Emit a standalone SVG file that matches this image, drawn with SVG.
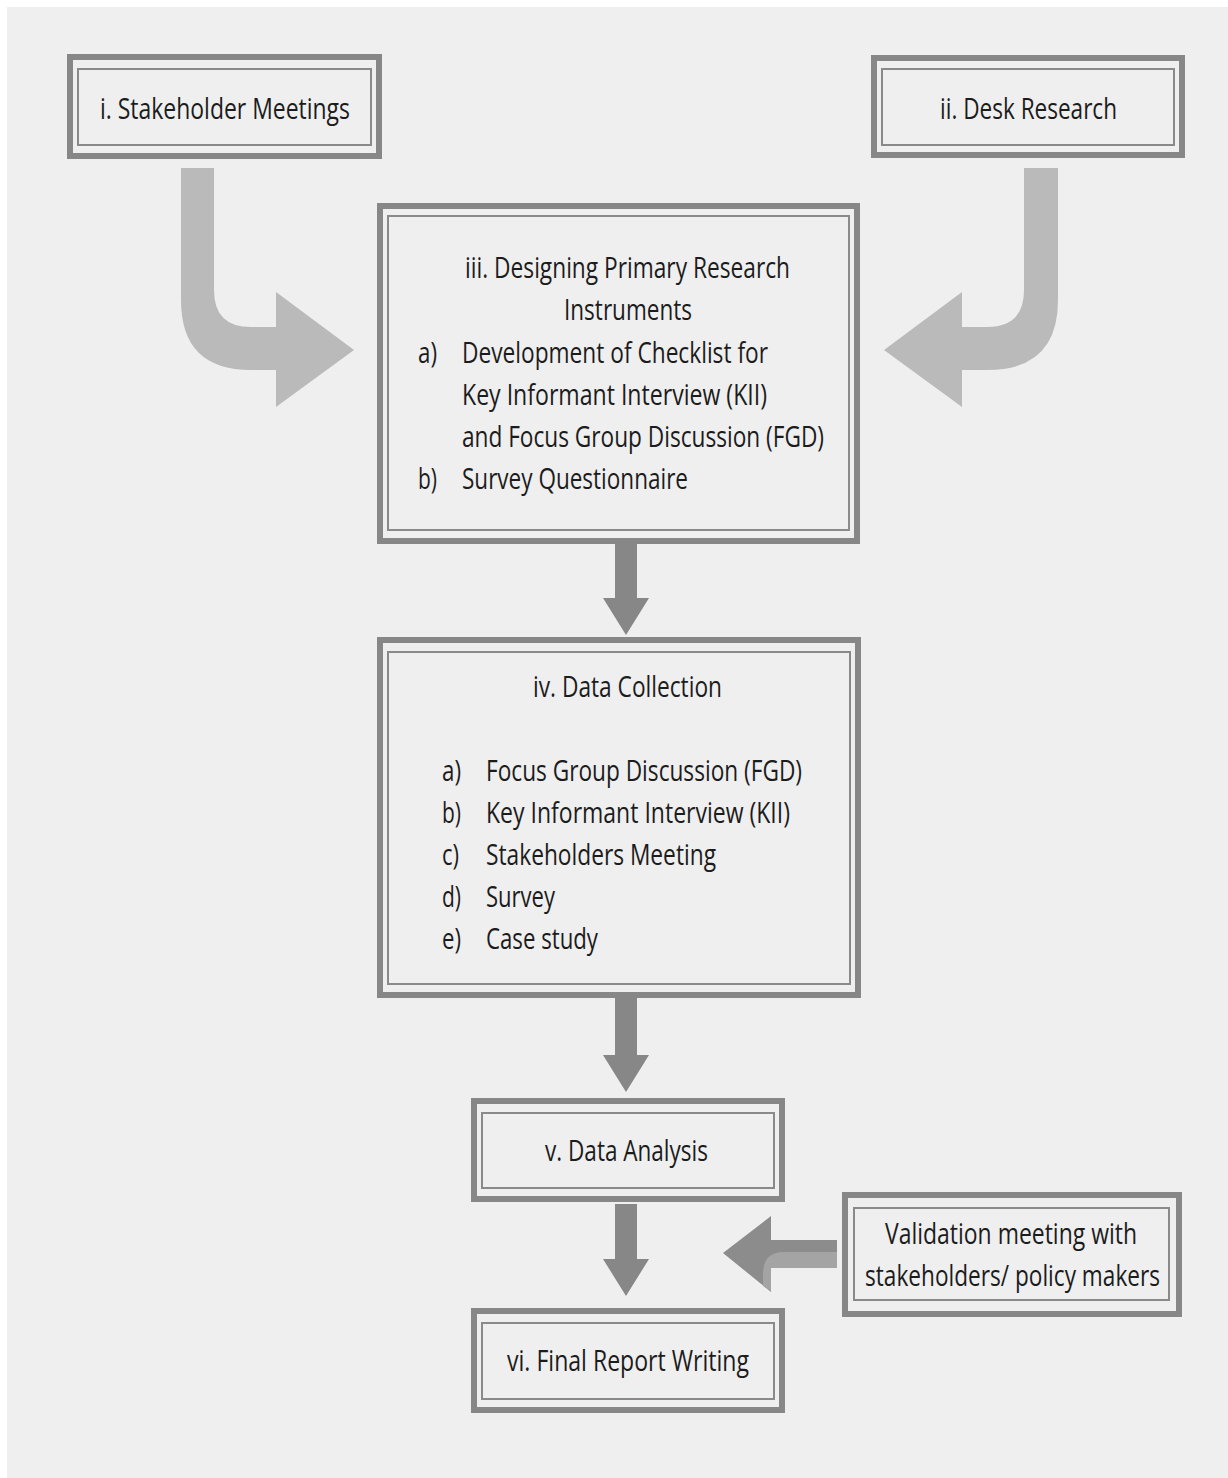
<svg xmlns="http://www.w3.org/2000/svg" width="1228" height="1478" viewBox="0 0 1228 1478">
<style>
.outer{fill:none;stroke:#878787;stroke-width:6}
.inner{fill:none;stroke:#8a8a8a;stroke-width:2}
.t{font-family:"Open Sans","Noto Sans","Liberation Sans",sans-serif;font-size:30px;fill:#1c1c1c}
.curve{fill:#bababa}
.down{fill:#878787}
</style>
<rect x="0" y="0" width="1228" height="1478" fill="#ffffff"/>
<rect x="7" y="7" width="1221" height="1471" fill="#efefef"/>

<g id="connectors">
<path class="curve" d="M181,168 H214 V290 Q214,327 251,327 H276 V292 L354,350 L276,407 V370 H251 Q181,370 181,300 Z"/>
<path class="curve" d="M1058,168 H1024 V290 Q1024,327 987,327 H962 V292 L884,350 L962,407 V370 H987 Q1058,370 1058,300 Z"/>
<path class="down" d="M615,542 H637 V598 H649 L626,635 L603,598 H615 Z"/>
<path class="down" d="M615,998 H637 V1055 H649 L626,1092 L603,1055 H615 Z"/>
<path class="down" d="M615,1204 H637 V1259 H649 L626,1296 L603,1259 H615 Z"/>
<path fill="#8c8c8c" d="M837,1240 V1268 H771 V1292 L723,1253 L771,1216 V1240 Z"/>
<path fill="#a4a4a4" d="M837,1252 H784 Q764,1252 763,1272 V1286 L771,1291 V1268 H837 Z"/>
</g>

<g id="node-i">
<rect class="outer" x="70" y="57" width="309" height="99"/>
<rect class="inner" x="78" y="69" width="293" height="76"/>
<text class="t" x="100" y="119" textLength="250" lengthAdjust="spacingAndGlyphs">i. Stakeholder Meetings</text>
</g>

<g id="node-ii">
<rect class="outer" x="874" y="58" width="308" height="97"/>
<rect class="inner" x="882" y="69" width="292" height="76"/>
<text class="t" x="940" y="119" textLength="177" lengthAdjust="spacingAndGlyphs">ii. Desk Research</text>
</g>

<g id="node-iii">
<rect class="outer" x="380" y="206" width="477" height="335"/>
<rect class="inner" x="388" y="216" width="461" height="314"/>
<text class="t" x="465" y="278" textLength="325" lengthAdjust="spacingAndGlyphs">iii. Designing Primary Research</text>
<text class="t" x="564" y="320" textLength="128" lengthAdjust="spacingAndGlyphs">Instruments</text>
<text class="t" x="418" y="363" textLength="19" lengthAdjust="spacingAndGlyphs">a)</text>
<text class="t" x="462" y="363" textLength="306" lengthAdjust="spacingAndGlyphs">Development of Checklist for</text>
<text class="t" x="462" y="405" textLength="305" lengthAdjust="spacingAndGlyphs">Key Informant Interview (KII)</text>
<text class="t" x="462" y="447" textLength="362" lengthAdjust="spacingAndGlyphs">and Focus Group Discussion (FGD)</text>
<text class="t" x="418" y="489" textLength="19" lengthAdjust="spacingAndGlyphs">b)</text>
<text class="t" x="462" y="489" textLength="226" lengthAdjust="spacingAndGlyphs">Survey Questionnaire</text>
</g>

<g id="node-iv">
<rect class="outer" x="380" y="640" width="478" height="355"/>
<rect class="inner" x="388" y="652" width="462" height="332"/>
<text class="t" x="533" y="697" textLength="189" lengthAdjust="spacingAndGlyphs">iv. Data Collection</text>
<text class="t" x="442" y="781" textLength="19" lengthAdjust="spacingAndGlyphs">a)</text>
<text class="t" x="486" y="781" textLength="316" lengthAdjust="spacingAndGlyphs">Focus Group Discussion (FGD)</text>
<text class="t" x="442" y="823" textLength="19" lengthAdjust="spacingAndGlyphs">b)</text>
<text class="t" x="486" y="823" textLength="304" lengthAdjust="spacingAndGlyphs">Key Informant Interview (KII)</text>
<text class="t" x="442" y="865" textLength="17" lengthAdjust="spacingAndGlyphs">c)</text>
<text class="t" x="486" y="865" textLength="230" lengthAdjust="spacingAndGlyphs">Stakeholders Meeting</text>
<text class="t" x="442" y="907" textLength="19" lengthAdjust="spacingAndGlyphs">d)</text>
<text class="t" x="486" y="907" textLength="69" lengthAdjust="spacingAndGlyphs">Survey</text>
<text class="t" x="442" y="949" textLength="19" lengthAdjust="spacingAndGlyphs">e)</text>
<text class="t" x="486" y="949" textLength="112" lengthAdjust="spacingAndGlyphs">Case study</text>
</g>

<g id="node-v">
<rect class="outer" x="474" y="1101" width="308" height="98"/>
<rect class="inner" x="482" y="1113" width="292" height="75"/>
<text class="t" x="545" y="1161" textLength="163" lengthAdjust="spacingAndGlyphs">v. Data Analysis</text>
</g>

<g id="node-vi">
<rect class="outer" x="474" y="1311" width="308" height="99"/>
<rect class="inner" x="482" y="1323" width="292" height="76"/>
<text class="t" x="507" y="1371" textLength="242" lengthAdjust="spacingAndGlyphs">vi. Final Report Writing</text>
</g>

<g id="node-validation">
<rect class="outer" x="845" y="1195" width="334" height="119"/>
<rect class="inner" x="854" y="1208" width="315" height="92"/>
<text class="t" x="885" y="1244" textLength="252" lengthAdjust="spacingAndGlyphs">Validation meeting with</text>
<text class="t" x="865" y="1286" textLength="295" lengthAdjust="spacingAndGlyphs">stakeholders/ policy makers</text>
</g>
</svg>
